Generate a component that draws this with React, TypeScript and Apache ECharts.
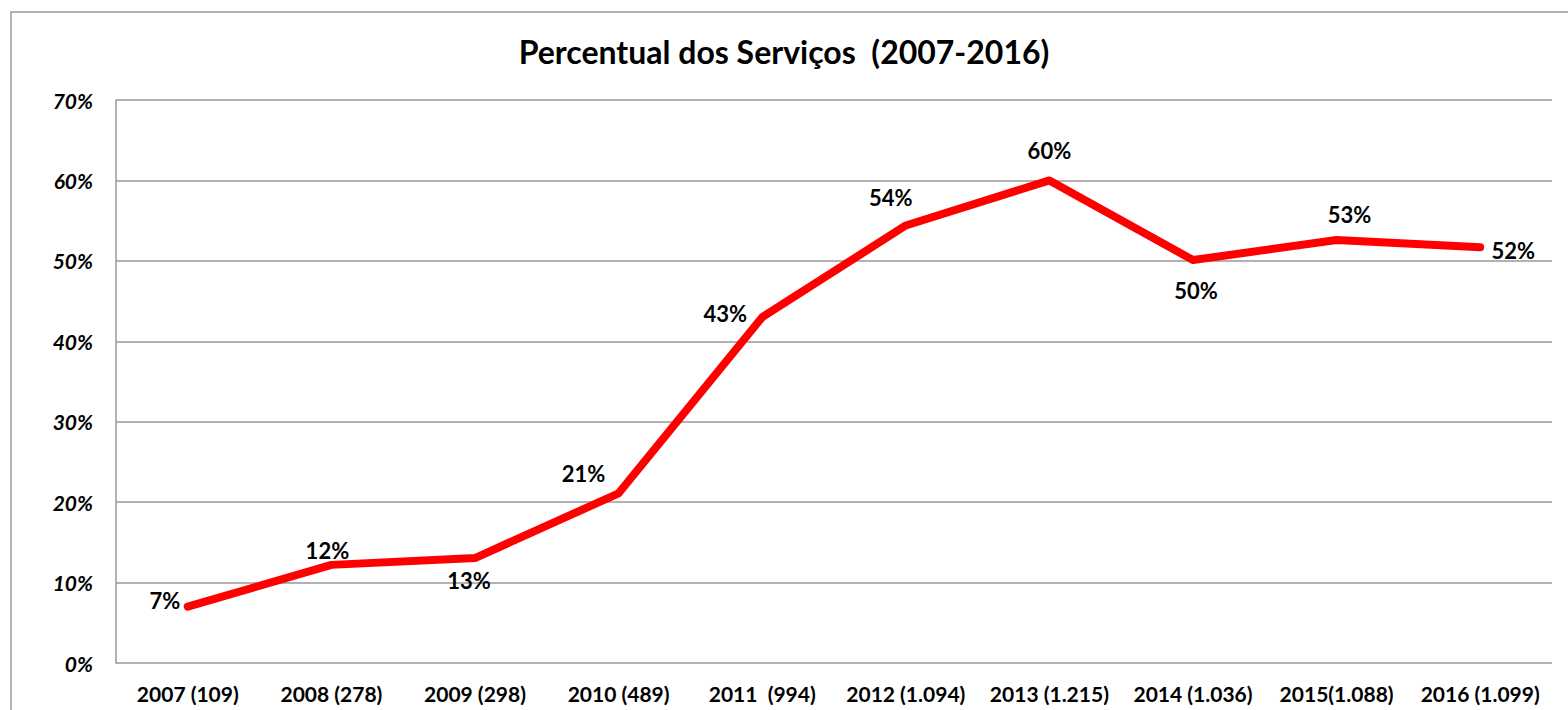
import React, { useEffect, useRef } from "react";
import * as echarts from "echarts";

const titleText = "Percentual dos Serviços  (2007-2016)";
const categories = [
  "2007 (109)",
  "2008 (278)",
  "2009 (298)",
  "2010 (489)",
  "2011  (994)",
  "2012 (1.094)",
  "2013 (1.215)",
  "2014 (1.036)",
  "2015(1.088)",
  "2016 (1.099)",
];
const values = [7, 12.2, 13.05, 21.1, 43.0, 54.4, 60.0, 50.1, 52.6, 51.7];
const labelOffsets: [number, number][] = [
  [-23, -6],
  [-4, -14],
  [-6, 22],
  [-35, -20],
  [-37, -4],
  [-15, -28],
  [0, -30],
  [3, 30],
  [13, -25],
  [33, 3],
];

const FONT = "Lato, 'Open Sans', sans-serif";

export default function App() {
  const ref = useRef<HTMLDivElement>(null);
  useEffect(() => {
    if (!ref.current) return;
    const chart = echarts.init(ref.current, undefined, { renderer: "svg" });
    chart.setOption({
      animation: false,
      backgroundColor: "#ffffff",
      title: {
        text: titleText,
        left: "center",
        top: 30,
        textStyle: {
          fontFamily: FONT,
          fontWeight: "bold",
          fontSize: 32,
          color: "#000",
        },
      },
      graphic: [
        {
          type: "rect",
          shape: { x: 11, y: 12, width: 1580, height: 720 },
          style: { fill: "none", stroke: "#999", lineWidth: 1.5 },
          silent: true,
        },
      ],
      grid: { left: 116, right: 16, top: 100, bottom: 47 },
      xAxis: {
        type: "category",
        data: categories,
        boundaryGap: true,
        axisLine: { show: false },
        axisTick: { show: false },
        axisLabel: {
          fontFamily: FONT,
          fontWeight: "bold",
          fontSize: 21,
          color: "#000",
          margin: 20,
          interval: 0,
        },
      },
      yAxis: {
        type: "value",
        min: 0,
        max: 70,
        interval: 10,
        axisLine: { show: true, lineStyle: { color: "#999", width: 1.5 } },
        axisTick: { show: false },
        splitLine: { lineStyle: { color: "#999", width: 1.5 } },
        axisLabel: {
          formatter: "{value}%",
          fontFamily: FONT,
          fontWeight: "bold",
          fontStyle: "italic",
          fontSize: 21,
          color: "#000",
          margin: 23,
        },
      },
      series: [
        {
          type: "line",
          data: values.map((v, i) => ({
            value: v,
            label: { offset: labelOffsets[i] },
          })),
          symbol: "circle",
          symbolSize: 1,
          showSymbol: true,
          itemStyle: { color: "rgba(255,0,0,0)", borderWidth: 0 },
          lineStyle: { color: "#ff0000", width: 8, cap: "round", join: "round" },
          label: {
            show: true,
            position: "inside",
            formatter: (p: any) => Math.round(p.value) + "%",
            fontFamily: FONT,
            fontWeight: "bold",
            fontSize: 22,
            color: "#000",
          },
        },
      ],
    });
    return () => chart.dispose();
  }, []);
  return (
    <div
      ref={ref}
      style={{ position: "fixed", left: 0, top: 0, width: 1568, height: 710 }}
    />
  );
}
